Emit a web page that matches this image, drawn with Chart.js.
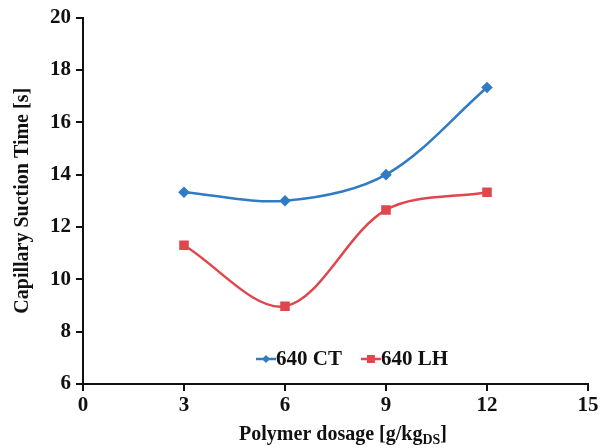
<!DOCTYPE html>
<html>
<head>
<meta charset="utf-8">
<script src="https://cdn.jsdelivr.net/npm/chart.js@4/dist/chart.umd.min.js"></script>
<style>
  html, body { margin: 0; padding: 0; background: #fff; }
  #wrap { width: 605px; height: 448px; }
</style>
</head>
<body>
<div id="wrap"><canvas id="chart" width="605" height="448"></canvas></div>
<script>
// data
const dosage = [3, 6, 9, 12];
const ct640 = [13.33, 13.0, 14.0, 17.33];
const lh640 = [11.3, 8.97, 12.65, 13.33];
const seriesNames = ["640 CT", "640 LH"];
const xTicks = [0, 3, 6, 9, 12, 15];
const yTicks = [6, 8, 10, 12, 14, 16, 18, 20];

const FONT = "'Liberation Serif', 'Times New Roman', serif";
const BLUE = "#2f7bc4";
const RED = "#e0474c";

// legend drawn inside the plot, above the x axis
const insideLegend = {
  id: "insideLegend",
  afterDraw(chart) {
    const ctx = chart.ctx;
    const area = chart.chartArea;
    const y = area.bottom - 25;
    let x = 256;
    ctx.save();
    ctx.font = "bold 21px " + FONT;
    ctx.textBaseline = "middle";
    chart.data.datasets.forEach((ds) => {
      ctx.strokeStyle = ds.borderColor;
      ctx.lineWidth = 2.5;
      ctx.beginPath();
      ctx.moveTo(x, y);
      ctx.lineTo(x + 20, y);
      ctx.stroke();
      ctx.fillStyle = ds.borderColor;
      if (ds.pointStyle === "rect") {
        ctx.fillRect(x + 6, y - 4, 8, 8);
      } else {
        ctx.beginPath();
        ctx.moveTo(x + 10, y - 4);
        ctx.lineTo(x + 14, y);
        ctx.lineTo(x + 10, y + 4);
        ctx.lineTo(x + 6, y);
        ctx.closePath();
        ctx.fill();
      }
      ctx.fillStyle = "#111";
      ctx.fillText(ds.label, x + 20, y + 1);
      x += 20 + ctx.measureText(ds.label).width + 19;
    });
    ctx.restore();
  }
};

// x axis title with subscript
const xTitle = {
  id: "xTitle",
  afterDraw(chart) {
    const ctx = chart.ctx;
    const main = "Polymer dosage [g/kg";
    const sub = "DS";
    const end = "]";
    ctx.save();
    ctx.fillStyle = "#111";
    ctx.textBaseline = "alphabetic";
    ctx.font = "bold 20px " + FONT;
    const w1 = ctx.measureText(main).width;
    const w3 = ctx.measureText(end).width;
    ctx.font = "bold 14px " + FONT;
    const w2 = ctx.measureText(sub).width;
    let x = 343 - (w1 + w2 + w3) / 2;
    const y = 440;
    ctx.font = "bold 20px " + FONT;
    ctx.fillText(main, x, y);
    x += w1;
    ctx.font = "bold 14px " + FONT;
    ctx.fillText(sub, x, y + 4);
    x += w2;
    ctx.font = "bold 20px " + FONT;
    ctx.fillText(end, x, y);
    ctx.restore();
  }
};

new Chart(document.getElementById("chart"), {
  type: "line",
  data: {
    datasets: [
      {
        label: seriesNames[0],
        data: dosage.map((d, i) => ({ x: d, y: ct640[i] })),
        borderColor: BLUE,
        backgroundColor: BLUE,
        borderWidth: 2.5,
        pointStyle: "rectRot",
        pointRadius: 4,
        tension: 0.33
      },
      {
        label: seriesNames[1],
        data: dosage.map((d, i) => ({ x: d, y: lh640[i] })),
        borderColor: RED,
        backgroundColor: RED,
        borderWidth: 2.5,
        pointStyle: "rect",
        pointRadius: 5,
        tension: 0.33
      }
    ]
  },
  options: {
    responsive: false,
    animation: false,
    layout: { padding: { top: 16, right: 17, left: 0, bottom: 0 } },
    plugins: {
      legend: { display: false },
      tooltip: { enabled: false }
    },
    scales: {
      x: {
        type: "linear",
        min: 0,
        max: 15,
        afterBuildTicks: (axis) => { axis.ticks = xTicks.map((v) => ({ value: v })); },
        afterFit: (axis) => { axis.height = 64; },
        border: { color: "#111", width: 2 },
        grid: { drawOnChartArea: false, tickLength: 7, color: "#111", lineWidth: 2 },
        ticks: { color: "#111", padding: 2, font: { family: FONT, size: 21, weight: "bold" } }
      },
      y: {
        min: 6,
        max: 20,
        afterBuildTicks: (axis) => { axis.ticks = yTicks.map((v) => ({ value: v })); },
        afterFit: (axis) => { axis.width = 83; },
        border: { color: "#111", width: 2 },
        grid: { drawOnChartArea: false, tickLength: 7, color: "#111", lineWidth: 2 },
        ticks: { color: "#111", padding: 5, font: { family: FONT, size: 21, weight: "bold" } },
        title: {
          display: true,
          text: "Capillary Suction Time [s]",
          color: "#111",
          padding: { top: 11, bottom: 0 },
          font: { family: FONT, size: 20, weight: "bold" }
        }
      }
    }
  },
  plugins: [insideLegend, xTitle]
});
</script>
</body>
</html>
